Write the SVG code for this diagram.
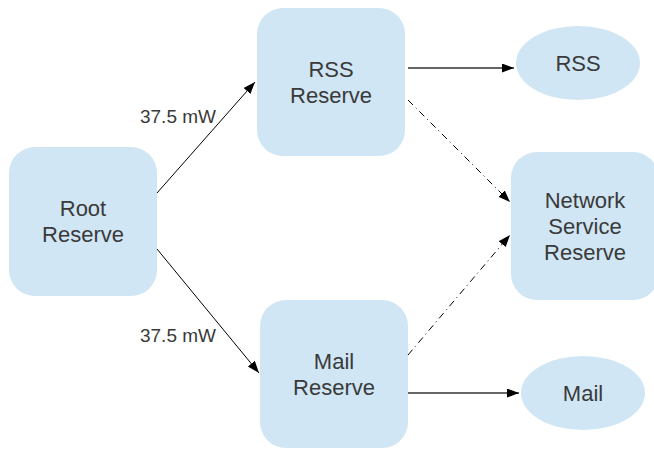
<svg xmlns="http://www.w3.org/2000/svg" width="654" height="450" viewBox="0 0 654 450">
<style>
.node{fill:#d0e6f4;stroke:none}
.t{font-family:"Liberation Sans",Arial,sans-serif;font-size:22px;fill:#3a3a3a;text-anchor:middle}
.lbl{font-family:"Liberation Sans",Arial,sans-serif;font-size:19px;fill:#3a3a3a;text-anchor:end}
.e{fill:none;stroke:#000;stroke-width:1}
.g{fill:none;stroke:#666;stroke-width:2}
.d{fill:none;stroke:#000;stroke-width:1;stroke-dasharray:7,4,1,4}
</style>
<defs>
<marker id="ah" markerUnits="userSpaceOnUse" markerWidth="13" markerHeight="10" refX="12" refY="4.5" orient="auto">
<path d="M0,0 L12,4.5 L0,9 z" fill="#000"/>
</marker>
</defs>
<g id="root"><rect class="node" x="9" y="147" width="148" height="149" rx="26"/><text class="t" x="83" y="216">Root</text><text class="t" x="83" y="242">Reserve</text></g>
<g id="rssreserve"><rect class="node" x="257" y="8" width="148" height="148" rx="26"/><text class="t" x="331" y="77">RSS</text><text class="t" x="331" y="103">Reserve</text></g>
<g id="mailreserve"><rect class="node" x="260" y="300" width="148" height="148" rx="26"/><text class="t" x="334" y="369">Mail</text><text class="t" x="334" y="395">Reserve</text></g>
<g id="netreserve"><rect class="node" x="511" y="152" width="148" height="148" rx="26"/><text class="t" x="585" y="208">Network</text><text class="t" x="585" y="234">Service</text><text class="t" x="585" y="260">Reserve</text></g>
<g id="rss"><ellipse class="node" cx="578" cy="63" rx="62" ry="37"/><text class="t" x="578" y="71">RSS</text></g>
<g id="mail"><ellipse class="node" cx="583" cy="393" rx="62" ry="37"/><text class="t" x="583" y="401">Mail</text></g>
<g id="edges">
<line class="e" x1="157" y1="193" x2="255" y2="82" marker-end="url(#ah)"/>
<line class="e" x1="157" y1="249" x2="259" y2="373" marker-end="url(#ah)"/>
<line class="g" x1="408" y1="68" x2="514" y2="68" marker-end="url(#ah)"/>
<line class="g" x1="408" y1="393" x2="519" y2="393" marker-end="url(#ah)"/>
<line class="d" x1="408" y1="100" x2="510" y2="202" marker-end="url(#ah)"/>
<line class="d" x1="408" y1="355" x2="510" y2="235" marker-end="url(#ah)"/>
<text class="lbl" x="216" y="123">37.5 mW</text>
<text class="lbl" x="216" y="342">37.5 mW</text>
</g>
</svg>
